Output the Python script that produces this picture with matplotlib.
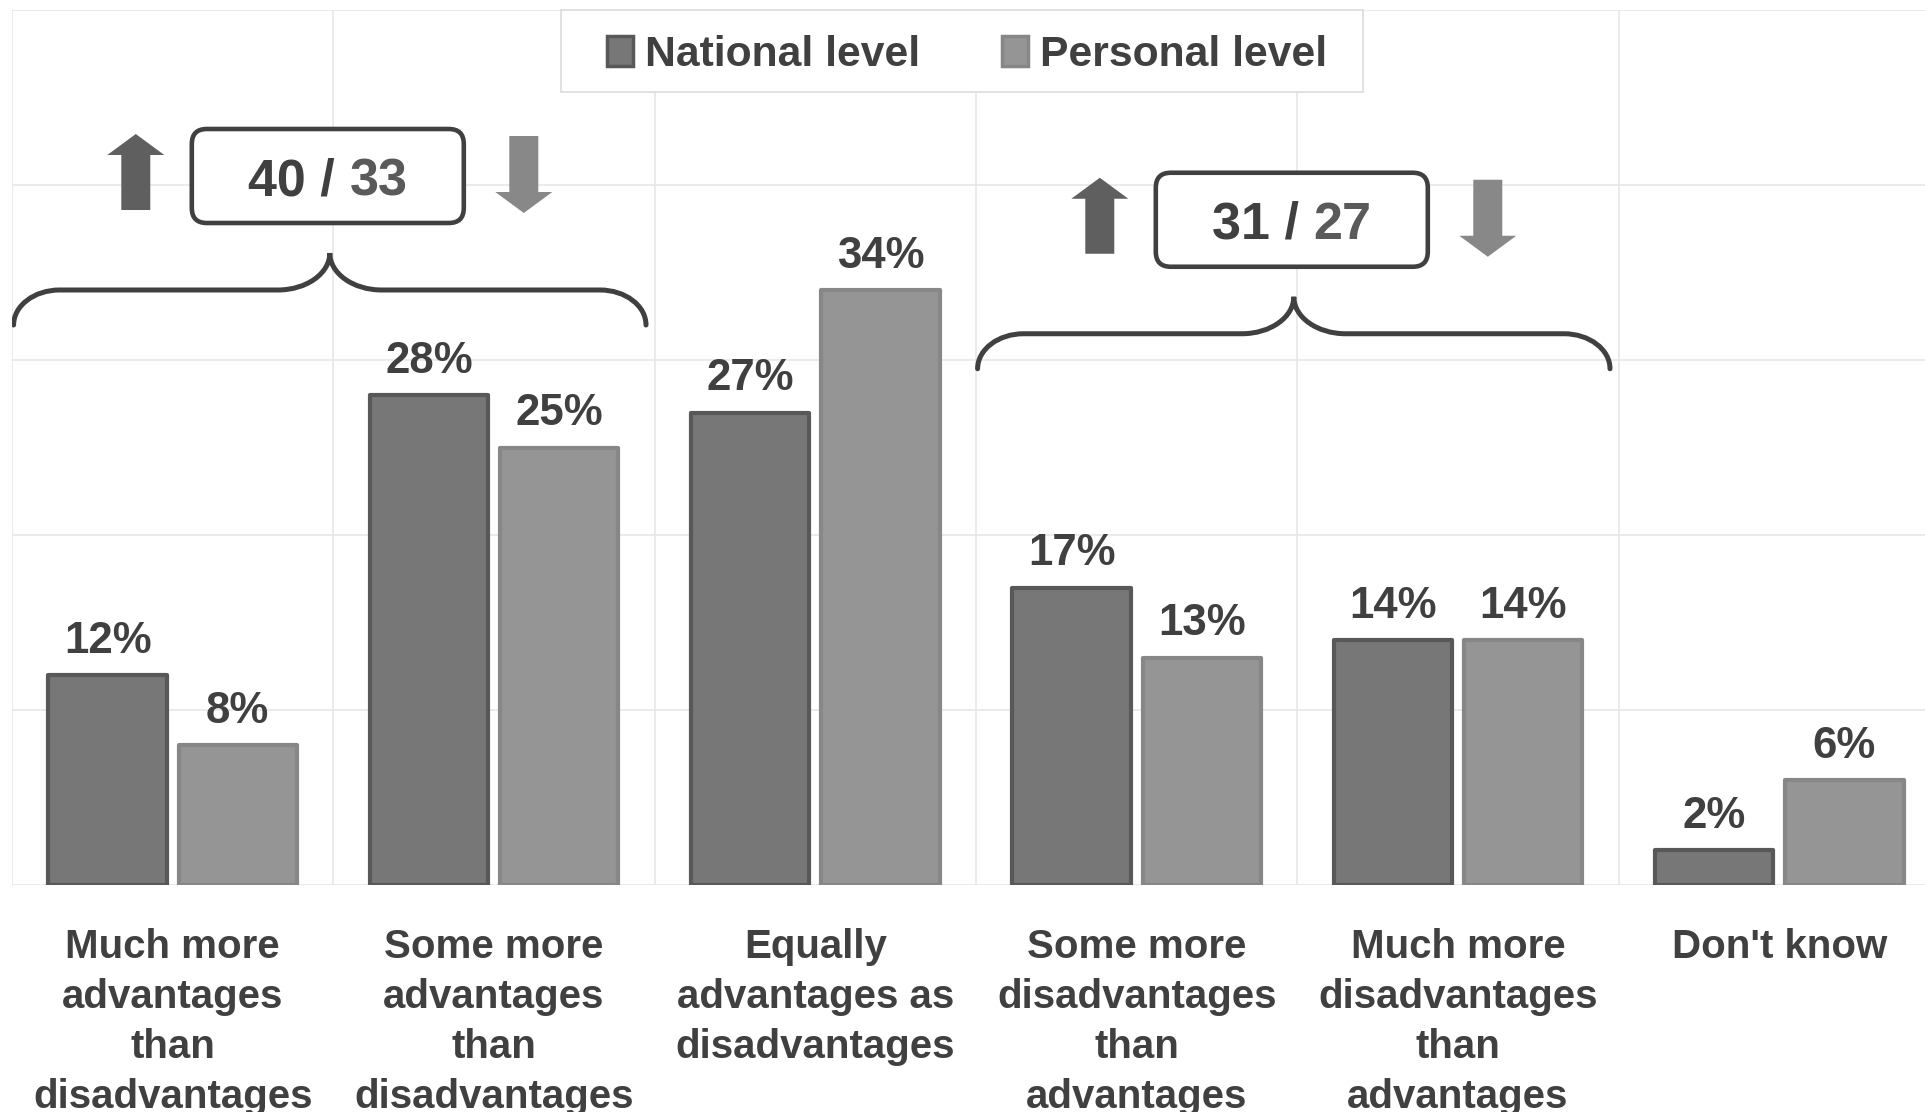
import matplotlib
matplotlib.use("Agg")
import matplotlib.pyplot as plt
import numpy as np
from matplotlib.patches import Polygon, FancyBboxPatch, PathPatch, Patch, Rectangle
from matplotlib.path import Path
from matplotlib.transforms import IdentityTransform

plt.rcParams['font.family'] = ['Liberation Sans', 'DejaVu Sans']
plt.rcParams['font.weight'] = 'bold'

# data
categories = ["Much more\nadvantages\nthan\ndisadvantages",
              "Some more\nadvantages\nthan\ndisadvantages",
              "Equally\nadvantages as\ndisadvantages",
              "Some more\ndisadvantages\nthan\nadvantages",
              "Much more\ndisadvantages\nthan\nadvantages",
              "Don't know"]
national = [12, 28, 27, 17, 14, 2]
personal = [8, 25, 34, 13, 14, 6]
series_names = ["National level", "Personal level"]
# category groups summed in the boxes, with the height where the brace sits
groups = [[0, 1], [3, 4]]
brace_y = [32, 29.5]

TXT = '#404040'
C_NAT, E_NAT = '#777777', '#585858'
C_PER, E_PER = '#959595', '#878787'

W, H = 1925, 1112
fig = plt.figure(figsize=(W / 100, H / 100), dpi=100)
ax = fig.add_axes([12 / W, 227 / H, 1928 / W, 875 / H])
ax.set_xlim(-0.5, 5.5)
ax.set_ylim(0, 50)
ax.axis('off')

# grid
for gx in np.arange(-0.5, 6):
    ax.axvline(gx, color='#e6e6e6', lw=1.1, zorder=0)
for gy in range(0, 51, 10):
    ax.axhline(gy, color='#e6e6e6', lw=1.1, zorder=0)

x = np.arange(len(categories))
off, bw = 0.2025, 0.368
b1 = ax.bar(x - off, national, bw, color=C_NAT, edgecolor=E_NAT, linewidth=3, zorder=2, joinstyle='round')
b2 = ax.bar(x + off, personal, bw, color=C_PER, edgecolor=E_PER, linewidth=3, zorder=2, joinstyle='round')

for bars, vals in ((b1, national), (b2, personal)):
    for r, v in zip(bars, vals):
        ax.annotate(f"{v}%", (r.get_x() + r.get_width() / 2, v), xytext=(0, 16),
                    textcoords='offset points', ha='center', va='baseline',
                    fontsize=31.5, color=TXT)

for i, lab in enumerate(categories):
    ax.annotate(lab, (i, 0), xytext=(0, -31), textcoords='offset points',
                ha='center', va='top', fontsize=29, color=TXT,
                linespacing=1.40, annotation_clip=False)

# legend (frame drawn separately so it can be wider than the entries)
fig.add_artist(Rectangle((561 / W, 1 - 92 / H), 802 / W, 82 / H, transform=fig.transFigure,
                         facecolor='white', edgecolor='#dcdcdc', lw=1.2, zorder=3))
handles = [Patch(facecolor=C_NAT, edgecolor=E_NAT, linewidth=2.5, label=series_names[0]),
           Patch(facecolor=C_PER, edgecolor=E_PER, linewidth=2.5, label=series_names[1])]
leg = fig.legend(handles=handles, loc='center', bbox_to_anchor=(967 / W, 1 - 55 / H),
                 ncol=2, fontsize=30.7, frameon=False,
                 handlelength=0.62, handleheight=0.72, handletextpad=0.28,
                 columnspacing=1.9, borderpad=0, borderaxespad=0, labelcolor=TXT)
leg.set_zorder(4)

# braces, boxes and arrows (drawn in pixel units)
fig.canvas.draw()
renderer = fig.canvas.get_renderer()
ident = IdentityTransform()
for g, yb in zip(groups, brace_y):
    X0, Ye = ax.transData.transform((g[0] - 0.5 + 0.005, yb))
    X1, _ = ax.transData.transform((g[-1] + 0.5 - 0.027, yb))
    Xc = (X0 + X1) / 2
    r, dy, r2, dy2 = 46, 35, 52, 37
    Yh = Ye + dy
    k = 0.552
    verts = [(X0, Ye), (X0, Ye + k * dy), (X0 + r - k * r, Yh), (X0 + r, Yh),
             (Xc - r2, Yh),
             (Xc - r2 + k * r2, Yh), (Xc, Yh + dy2 - k * dy2), (Xc, Yh + dy2),
             (Xc, Yh + dy2 - k * dy2), (Xc + r2 - k * r2, Yh), (Xc + r2, Yh),
             (X1 - r, Yh),
             (X1 - r + k * r, Yh), (X1, Ye + k * dy), (X1, Ye)]
    codes = [Path.MOVETO, Path.CURVE4, Path.CURVE4, Path.CURVE4, Path.LINETO,
             Path.CURVE4, Path.CURVE4, Path.CURVE4,
             Path.CURVE4, Path.CURVE4, Path.CURVE4, Path.LINETO,
             Path.CURVE4, Path.CURVE4, Path.CURVE4]
    ax.add_artist(PathPatch(Path(verts, codes), fill=False, edgecolor=TXT, lw=3.6,
                            transform=ident, capstyle='round', zorder=5))

    # box
    Bx, By = Xc - 2, Yh + dy2 + 77
    ax.add_artist(FancyBboxPatch((Bx - 136, By - 47), 272, 94,
                                 boxstyle='round,pad=0,rounding_size=15',
                                 facecolor='white', edgecolor=TXT, lw=3.3,
                                 transform=ident, zorder=5))
    n_sum = sum(national[i] for i in g)
    p_sum = sum(personal[i] for i in g)
    full = ax.text(0, 0, f"{n_sum} / {p_sum}", fontsize=37.5, transform=ident)
    tw = full.get_window_extent(renderer).width
    full.remove()
    ax.text(Bx - tw / 2, By, f"{n_sum} /", fontsize=37.5, color=TXT, ha='left',
            va='center_baseline', transform=ident, zorder=6)
    ax.text(Bx + tw / 2, By, f"{p_sum}", fontsize=37.5, color='#5a5a5a', ha='right',
            va='center_baseline', transform=ident, zorder=6)

    # arrows
    sw, hw, hh = 14.5, 28.5, 21
    ux, top, bot = Bx - 192, By + 42, By - 34
    up = [(ux - sw, bot), (ux + sw, bot), (ux + sw, top - hh), (ux + hw, top - hh),
          (ux, top), (ux - hw, top - hh), (ux - sw, top - hh)]
    ax.add_artist(Polygon(up, closed=True, facecolor='#5f5f5f', edgecolor='none',
                          transform=ident, zorder=5))
    dx, top, bot = Bx + 196, By + 40, By - 37
    down = [(dx - sw, top), (dx + sw, top), (dx + sw, bot + hh), (dx + hw, bot + hh),
            (dx, bot), (dx - hw, bot + hh), (dx - sw, bot + hh)]
    ax.add_artist(Polygon(down, closed=True, facecolor='#888888', edgecolor='none',
                          transform=ident, zorder=5))

fig.savefig("out.png", dpi=100, facecolor='white')
